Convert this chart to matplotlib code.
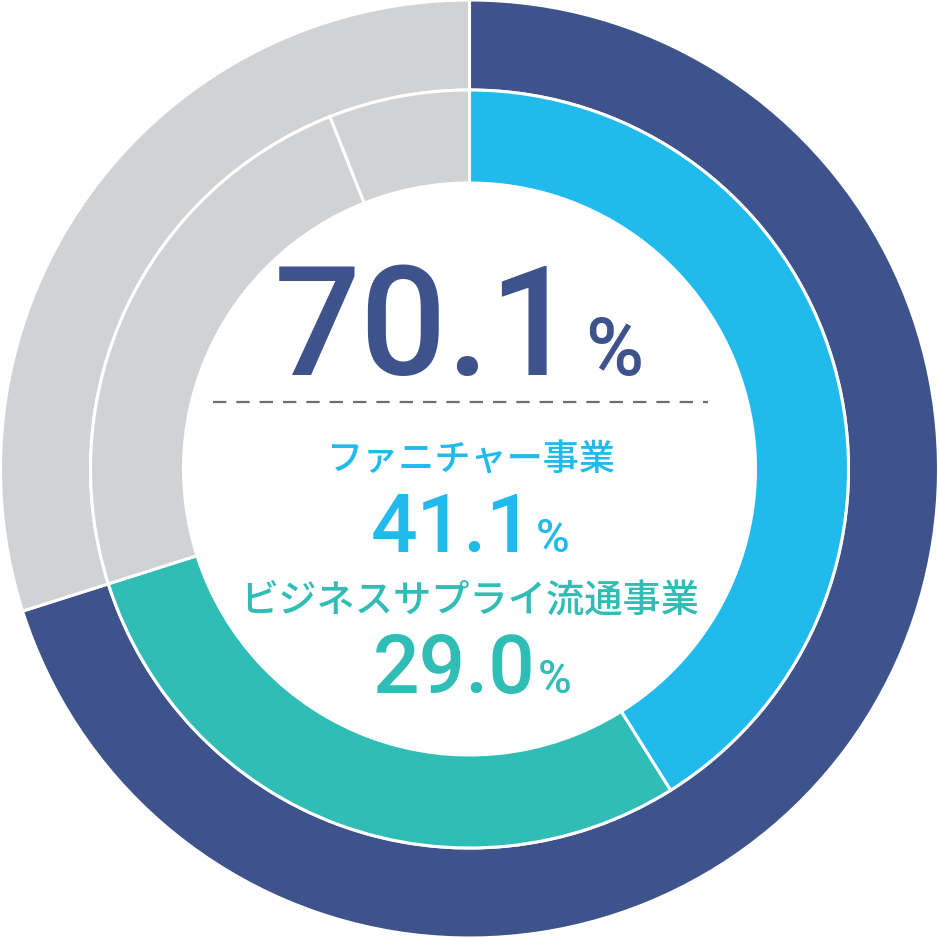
import matplotlib
matplotlib.use("Agg")
import matplotlib.pyplot as plt

# Data
outer_labels = ["事業合計", "その他"]
outer_values = [70.1, 29.9]
inner_labels = ["ファニチャー事業", "ビジネスサプライ流通事業", "その他A", "その他B"]
inner_values = [41.1, 29.0, 23.9, 6.0]
total_text = "70.1"
seg1_name = "ファニチャー事業"
seg1_value = "41.1"
seg2_name = "ビジネスサプライ流通事業"
seg2_value = "29.0"

DARK = "#3E528C"
LIGHT = "#21BAEC"
TEAL = "#2FBDB5"
GRAY = "#D1D2D4"

W, H = 939, 938
fig = plt.figure(figsize=(W / 100, H / 100), dpi=100)
ax = fig.add_axes([0, 0, 1, 1])
ax.set_aspect("equal")
ax.axis("off")

cx, cy = 469.5, H - 469
R = 469
ax.pie(outer_values, radius=R, center=(cx, cy), startangle=90, counterclock=False,
       colors=[DARK, GRAY],
       wedgeprops=dict(width=90, edgecolor="white", linewidth=2.2))
ax.pie(inner_values, radius=379, center=(cx, cy), startangle=90, counterclock=False,
       colors=[LIGHT, TEAL, GRAY, GRAY],
       wedgeprops=dict(width=93, edgecolor="white", linewidth=2.2))
ax.set_xlim(0, W)
ax.set_ylim(0, H)

NUM_FONT = ["Roboto", "DejaVu Sans"]
JP_FONT = ["Noto Sans CJK JP", "DejaVu Sans"]

def Y(y_img):
    return H - y_img

# Big total
ax.text(577, Y(375), total_text, fontsize=110, color=DARK, family=NUM_FONT,
        fontweight="medium", ha="right", va="baseline")
ax.text(614, Y(375), "%", fontsize=57, color=DARK, family=NUM_FONT,
        fontweight="medium", ha="center", va="baseline")

# dashed line
ax.plot([213, 708], [Y(402), Y(402)], color="#6D6E71", lw=1.6,
        linestyle=(0, (6, 4.5)), solid_capstyle="butt")

# segment 1
ax.text(471, Y(461), seg1_name, fontsize=26, color=LIGHT, family=JP_FONT,
        fontweight="medium", ha="center", va="center")
ax.text(371, Y(552), seg1_value, fontsize=59, color=LIGHT, family=NUM_FONT,
        fontweight="medium", ha="left", va="baseline")
ax.text(552.5, Y(552), "%", fontsize=33, color=LIGHT, family=NUM_FONT,
        fontweight="medium", ha="center", va="baseline")

# segment 2
ax.text(470, Y(602), seg2_name, fontsize=27.5, color=TEAL, family=JP_FONT,
        fontweight="medium", ha="center", va="center")
ax.text(373, Y(693), seg2_value, fontsize=59, color=TEAL, family=NUM_FONT,
        fontweight="medium", ha="left", va="baseline")
ax.text(555, Y(693), "%", fontsize=33, color=TEAL, family=NUM_FONT,
        fontweight="medium", ha="center", va="baseline")

fig.savefig("out.png", dpi=100)
